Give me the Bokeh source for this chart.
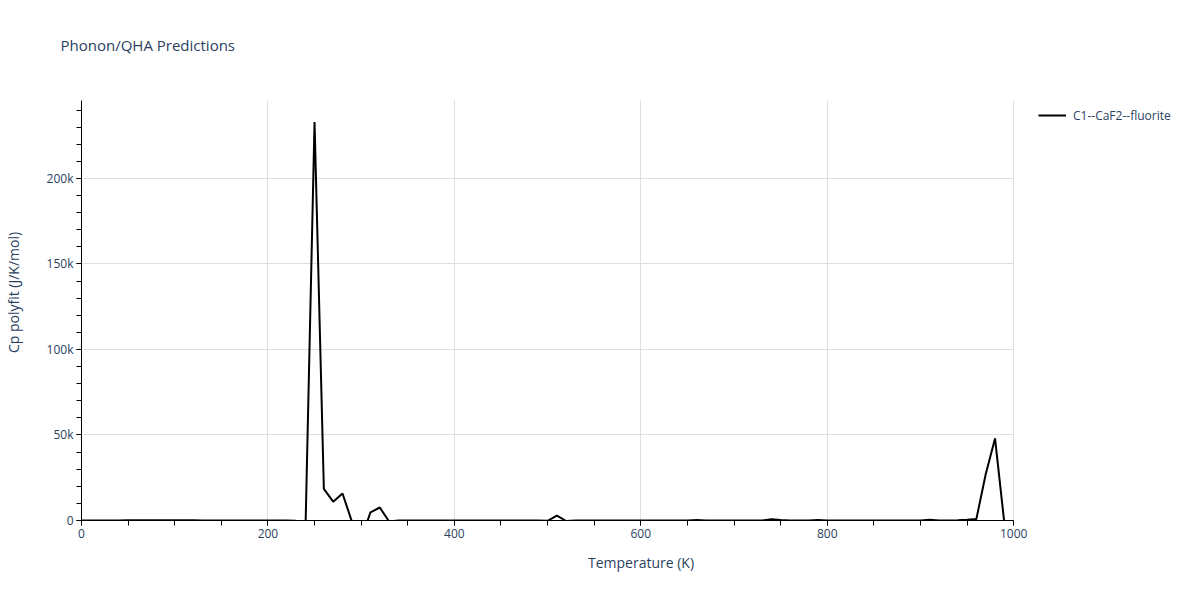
from bokeh.plotting import figure
from bokeh.models import (Range1d, SingleIntervalTicker, CustomJSTickFormatter,
                          Legend, LegendItem)
from bokeh.embed import file_html
from bokeh.resources import INLINE

# ---- data -------------------------------------------------------------
temperature = list(range(0, 1000, 10))  # K
cp_polyfit = [
    0, 3, 20, 45, 70, 90, 100, 105, 105, 100,            # 0-90
    95, 85, 75, 65, 55, 45, 35, 28, 20, 15,              # 100-190
    10, 5, 0, -100, -12000, 233000, 18500, 11000, 15800, -500,   # 200-290
    -11000, 4800, 7600, -600, 0, 10, 20, 15, 10, 5,      # 300-390
    0, 5, 10, 10, 5, 0, 0, 5, 10, 5,                     # 400-490
    -200, 2800, -300, 0, 10, 20, 10, 5, 0, 0,            # 500-590
    5, 10, 10, 5, 0, 0, 300, 0, 10, 10,                  # 600-690
    5, 0, 0, 50, 700, 300, 0, 10, 50, 300,               # 700-790
    0, 0, 5, 10, 10, 5, 0, 0, 10, 20,                    # 800-890
    50, 400, 0, 10, 100, 400, 900, 27000, 48000, -1500,  # 900-990
]

series_name = "C1--CaF2--fluorite"
title_text = "Phonon/QHA Predictions"
x_label = "Temperature (K)"
y_label = "Cp polyfit (J/K/mol)"

FONT = "Open Sans"
TXT = "#2a3f5f"

# axes box: 0..1000 K over 80..1013 px, 0..245.6k over 520..100 px.
# The drawing frame is extended right and up so that the legend and title
# (which sit outside the axes box) are not clipped; axes/grids are bounded.
X_MAX, Y_MAX = 1000, 245600
FRAME_TOP = 64
X_END = X_MAX * (1200 - 80) / (1013 - 80)
Y_END = Y_MAX * (520 - FRAME_TOP) / (520 - 100)

p = figure(width=1200, height=600, output_backend="svg", toolbar_location=None,
           x_range=Range1d(0, X_END), y_range=Range1d(0, Y_END),
           min_border_left=80, min_border_right=0, min_border_top=FRAME_TOP,
           min_border_bottom=80)
p.outline_line_color = None
p.background_fill_color = "white"

r = p.line(temperature, cp_polyfit, line_color="black", line_width=2)

# title
p.title.text = title_text
p.title.text_font = FONT
p.title.text_font_size = "15px"
p.title.text_font_style = "normal"
p.title.text_color = TXT
p.title.align = "left"
p.title.offset = -21
p.title.standoff = 20

# axes
xa = p.xaxis[0]
ya = p.yaxis[0]
xa.ticker = SingleIntervalTicker(interval=200, num_minor_ticks=4)
ya.ticker = SingleIntervalTicker(interval=50000, num_minor_ticks=5)
xa.bounds = (0, X_MAX)
ya.bounds = (0, Y_MAX)
ya.formatter = CustomJSTickFormatter(code="return tick == 0 ? '0' : (tick/1000) + 'k';")
for ax in (xa, ya):
    ax.axis_line_color = "black"
    ax.axis_line_width = 1
    ax.major_tick_line_color = "black"
    ax.minor_tick_line_color = "black"
    ax.major_tick_out = 5
    ax.major_tick_in = 0
    ax.minor_tick_out = 5
    ax.minor_tick_in = 0
    ax.major_label_text_font = FONT
    ax.major_label_text_font_size = "12px"
    ax.major_label_text_color = TXT
    ax.axis_label_text_font = FONT
    ax.axis_label_text_font_size = "14px"
    ax.axis_label_text_font_style = "normal"
    ax.axis_label_text_color = TXT
    ax.major_label_standoff = 3
xa.axis_label = x_label
ya.axis_label = y_label
xa.axis_label_standoff = 12
ya.axis_label_standoff = 21

p.xgrid.grid_line_color = "#dedede"
p.ygrid.grid_line_color = "#dedede"
p.xgrid.ticker = xa.ticker
p.ygrid.ticker = ya.ticker
p.xgrid.bounds = (0, X_MAX)
p.xgrid.cross_bounds = (0, Y_MAX)
p.ygrid.bounds = (0, Y_MAX)
p.ygrid.cross_bounds = (0, X_MAX)

legend = Legend(items=[LegendItem(label=series_name, renderers=[r])],
                location=(957, 395), padding=0, margin=0, spacing=0,
                glyph_width=28, glyph_height=20, label_height=20,
                label_standoff=7, label_text_font=FONT,
                label_text_font_size="12px", label_text_color=TXT,
                border_line_alpha=0, background_fill_alpha=0)
p.add_layout(legend)

open("out.html", "w").write(file_html(p, INLINE))
